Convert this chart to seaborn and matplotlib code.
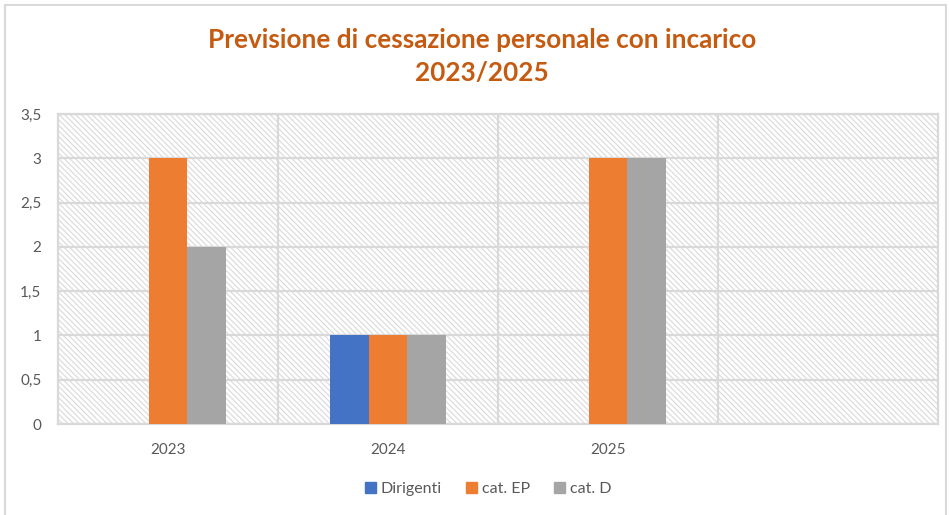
import pandas as pd
import seaborn as sb
import matplotlib.pyplot as plt
from matplotlib.patches import Rectangle
from matplotlib.ticker import FuncFormatter, FixedLocator

anni = ['2023', '2024', '2025']
dirigenti = [0, 1, 0]
cat_ep = [3, 1, 3]
cat_d = [2, 1, 3]
serie = ['Dirigenti', 'cat. EP', 'cat. D']
colori = ['#4472c4', '#ed7d31', '#a5a5a5']

# long form table for seaborn
rows = []
for nome, valori in zip(serie, [dirigenti, cat_ep, cat_d]):
    for a, v in zip(anni, valori):
        rows.append({'Anno': a, 'Serie': nome, 'Valore': v})
df = pd.DataFrame(rows)

sb.set_style("white")
plt.rcParams['font.family'] = ['Lato', 'DejaVu Sans']
plt.rcParams['hatch.color'] = '#d9d9d9'
plt.rcParams['hatch.linewidth'] = 0.8

fig = plt.figure(figsize=(9.49, 5.15), dpi=100)
ax = fig.add_axes([58 / 949, 1 - 424 / 515, 880 / 949, 310 / 515])

# hatched plot area
ax.patch.set_facecolor('white')
ax.add_patch(Rectangle((0, 0), 1, 1, transform=ax.transAxes, facecolor='white',
                       edgecolor='#d9d9d9', hatch='\\\\\\\\\\\\', lw=0, zorder=0))

sb.barplot(data=df, x='Anno', y='Valore', hue='Serie', hue_order=serie,
           palette=colori, width=0.53, gap=0, saturation=1, errorbar=None,
           legend=False, ax=ax, zorder=3, linewidth=0)

ax.set_xlim(-0.5, 3.5)
ax.set_ylim(0, 3.5)
ax.set_yticks([0, 0.5, 1, 1.5, 2, 2.5, 3, 3.5])
ax.yaxis.set_major_formatter(FuncFormatter(lambda v, p: f'{v:g}'.replace('.', ',')))
ax.xaxis.set_minor_locator(FixedLocator([0.5, 1.5, 2.5]))
ax.grid(axis='y', which='major', color='#d9d9d9', lw=1.6, zorder=1)
ax.grid(axis='x', which='minor', color='#d9d9d9', lw=1.6, zorder=1)
ax.set_axisbelow(True)
for s in ax.spines.values():
    s.set_color('#d9d9d9')
    s.set_linewidth(1.6)
ax.tick_params(axis='both', which='both', length=0, labelsize=11, labelcolor='#595959')
ax.tick_params(axis='x', pad=14)
ax.tick_params(axis='y', pad=12)
ax.set_xlabel('')
ax.set_ylabel('')

# title
fig.text(482 / 949, 1 - 40 / 515, 'Previsione di cessazione personale con incarico',
         ha='center', va='center', fontsize=18.8, fontweight='bold', color='#c55a11')
fig.text(482 / 949, 1 - 73 / 515, '2023/2025',
         ha='center', va='center', fontsize=18.8, fontweight='bold', color='#c55a11')

# legend
handles = [Rectangle((0, 0), 1, 1, color=c) for c in colori]
fig.legend(handles, serie, loc='center', bbox_to_anchor=(488 / 949, 1 - 489 / 515),
           ncol=3, frameon=False, fontsize=11.5, labelcolor='#595959',
           handlelength=0.7, handleheight=0.7, handletextpad=0.3, columnspacing=1.5)

# chart border
fig.patches.append(Rectangle((5 / 949, -0.01), 941 / 949, 1 - 5 / 515 + 0.01,
                             transform=fig.transFigure, fill=False,
                             edgecolor='#d9d9d9', lw=1.5))

plt.savefig('out.png', dpi=100)
plt.close()
